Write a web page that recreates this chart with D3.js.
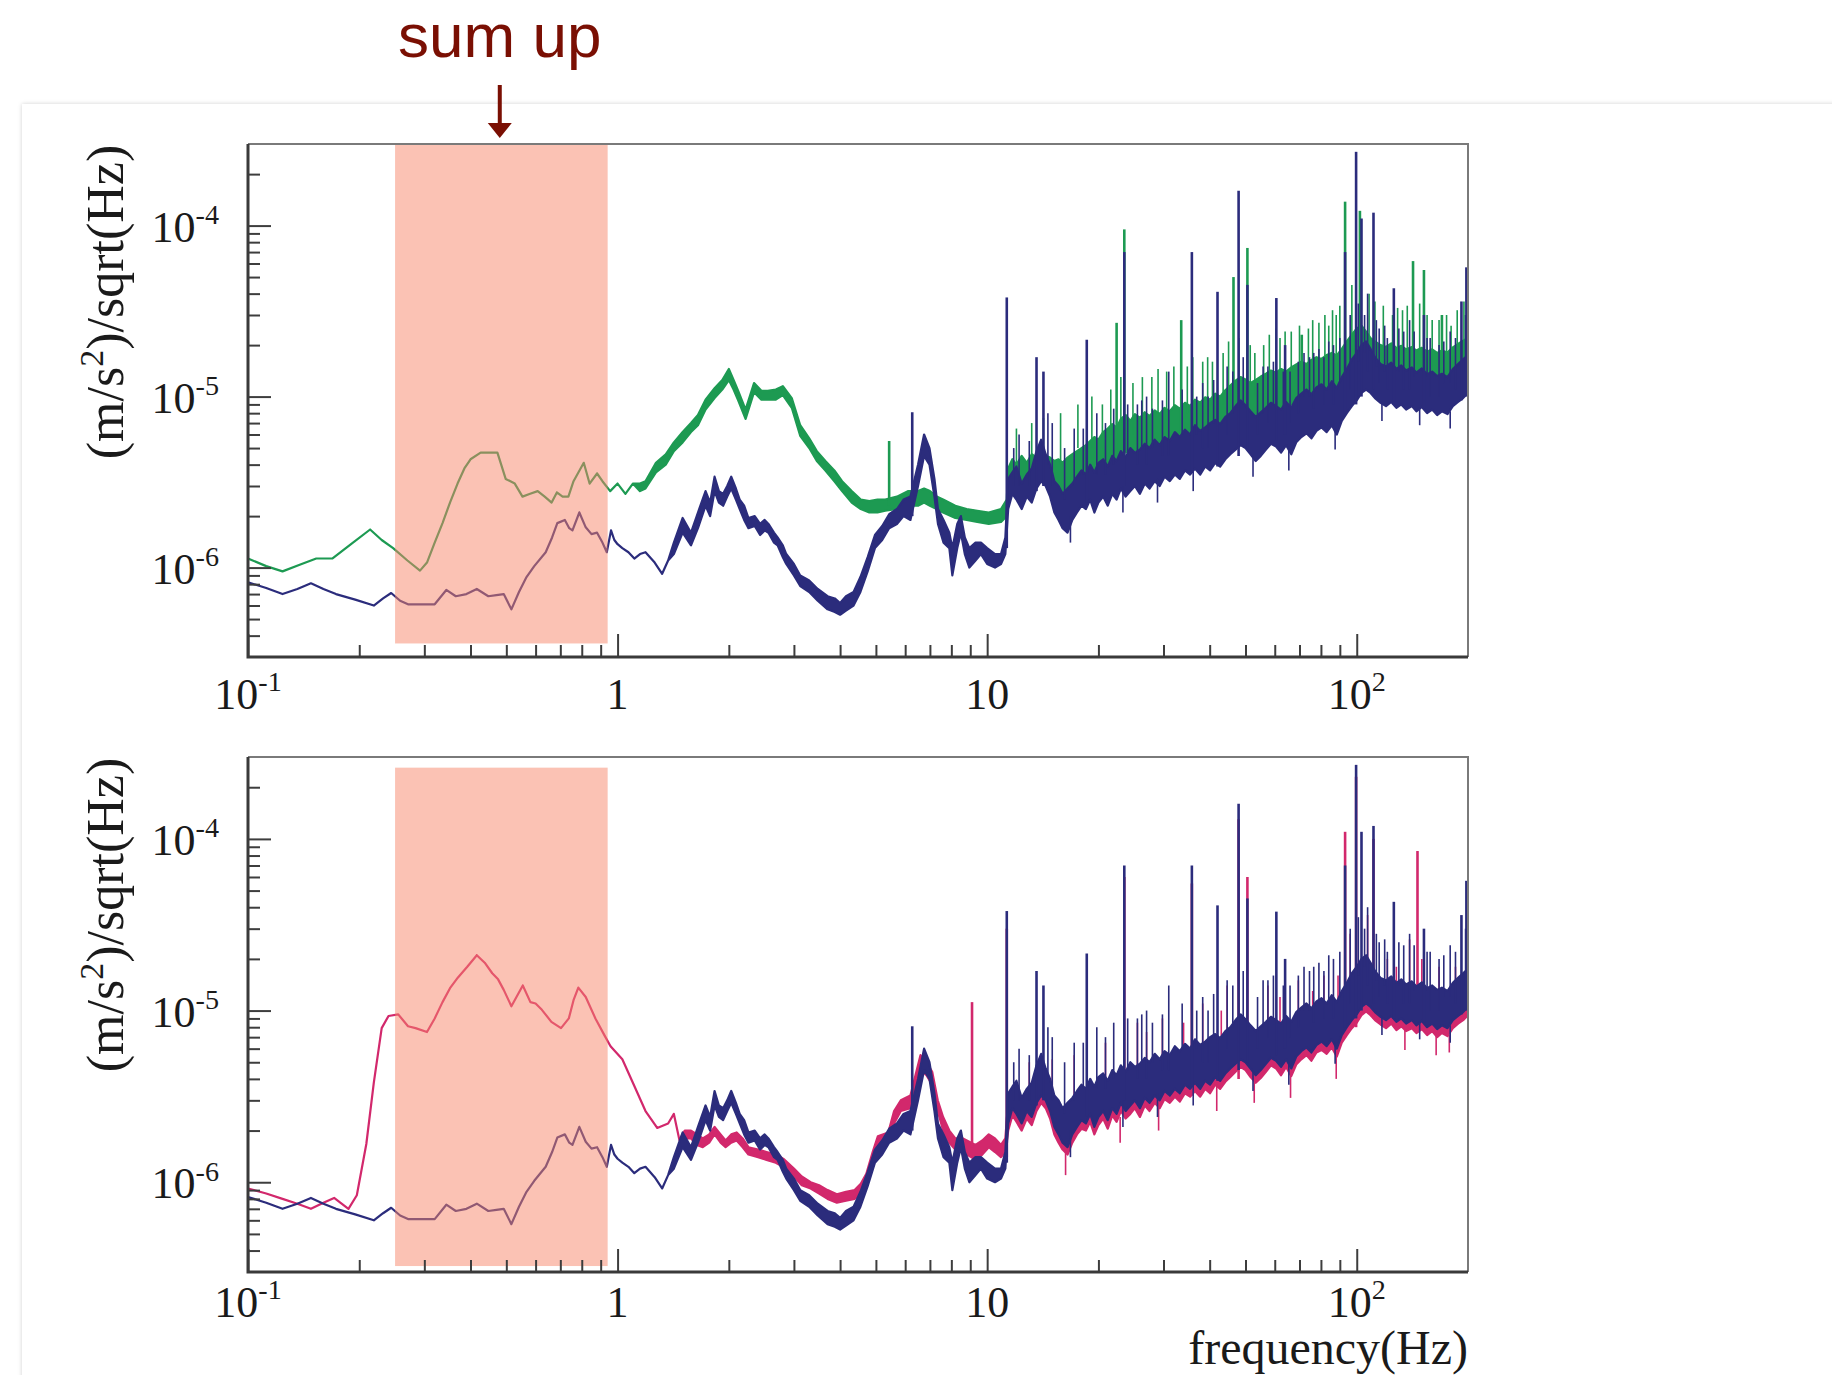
<!DOCTYPE html>
<html>
<head>
<meta charset="utf-8">
<script src="https://cdn.jsdelivr.net/npm/d3@7"></script>
<style>
  body { margin: 0; background: #fff; }
  svg { display: block; }
</style>
</head>
<body>
<div id="chart"></div>
<script>
const width = 1832, height = 1375;
const U = 1e-6; // trace values are written in micro (m/s^2)/sqrt(Hz)

const xMajor = [0.1, 1, 10, 100];
const xLabels = [["10", "-1"], ["1", ""], ["10", ""], ["10", "2"]];
const yMajor = [1e-4, 1e-5, 1e-6];
const yLabels = [["10", "-4"], ["10", "-5"], ["10", "-6"]];
const sumUpBand = [0.25, 0.94];

// [freq Hz, low, high] ; a single value means a clean line
const blueTrace = [
  [0.100,0.82],[0.112,0.76],[0.124,0.70],[0.136,0.75],[0.148,0.81],[0.160,0.75],[0.173,0.70],[0.195,0.65],
  [0.219,0.60],[0.232,0.66],[0.244,0.71],[0.258,0.64],[0.271,0.61],[0.295,0.61],[0.320,0.61],[0.344,0.74],
  [0.365,0.68],[0.390,0.70],[0.416,0.75],[0.447,0.68],[0.470,0.69],[0.492,0.70],[0.516,0.57],[0.541,0.72],
  [0.567,0.88],[0.595,1.02],[0.639,1.23],[0.665,1.50],[0.687,1.82],[0.720,1.90],[0.740,1.70],[0.755,1.65],
  [0.788,2.10],[0.820,1.72],[0.850,1.57],[0.880,1.60],[0.910,1.40],[0.935,1.23],[0.960,1.65],[0.980,1.45],
  [1.00,1.37],[1.03,1.30],[1.07,1.23],[1.11,1.13],[1.15,1.20],[1.19,1.23],[1.26,1.07],[1.32,0.92],[1.37,1.10],
  [1.42,1.2,1.4],[1.50,1.6,1.95],[1.58,1.35,1.6],[1.65,1.7,2.1],[1.73,2.3,2.8],[1.78,2.0,2.4],[1.83,2.8,3.4],
  [1.88,2.4,2.8],[1.93,2.3,2.7],[1.98,2.6,3.0],[2.03,2.9,3.4],[2.09,2.5,2.9],[2.14,2.2,2.5],[2.20,1.9,2.3],
  [2.26,1.7,1.95],[2.35,1.75,2.0],[2.43,1.55,1.8],[2.50,1.65,1.9],[2.56,1.6,1.8],[2.65,1.4,1.6],[2.71,1.35,1.5],
  [2.80,1.15,1.35],[2.86,1.05,1.2],[3.00,0.9,1.05],[3.12,0.78,0.9],[3.30,0.72,0.84],[3.48,0.64,0.75],
  [3.70,0.57,0.68],[3.87,0.55,0.66],[4.00,0.53,0.62],[4.15,0.56,0.68],[4.35,0.60,0.72],[4.54,0.72,0.88],
  [4.75,0.95,1.15],[4.97,1.3,1.55],[5.20,1.45,1.75],[5.43,1.7,2.05],[5.70,1.8,2.2],[5.94,2.0,2.5],[6.20,1.9,2.6],
  [6.50,3.0,4.0],[6.75,4.5,6.0],[6.98,4.0,5.0],[7.20,2.6,3.3],[7.36,1.8,2.2],[7.62,1.4,1.9],[7.90,1.3,1.6],
  [8.05,0.9,1.3],[8.30,1.3,1.8],[8.49,1.6,2.0],[8.70,1.2,1.5],[8.95,1.0,1.3],[9.30,1.1,1.4],[9.62,1.2,1.4],
  [10.0,1.05,1.3],[10.5,1.0,1.2],[10.9,1.05,1.2],[11.2,1.2,1.5],
  [11.4,2.2,3.3],[11.7,2.7,3.6],[12.0,2.5,3.9],[12.4,2.2,3.1],[12.8,2.6,3.5],[13.2,2.4,3.8],[13.6,2.9,4.8],
  [14.0,3.2,5.6],[14.4,3.0,4.6],[14.8,2.6,4.0],[15.2,2.1,3.2],[15.6,1.9,3.0],[16.0,1.7,2.7],[16.5,1.6,2.9],
  [17.0,1.9,3.1],[17.5,2.1,3.4],[18.0,2.3,3.7],[18.5,2.2,3.5],[19.0,2.5,4.0],[19.5,2.1,3.6],[20.0,2.4,4.1],
  [20.6,2.6,4.3],[21.2,2.3,3.9],[21.8,2.7,4.5],[22.4,2.5,4.2],[23.0,2.9,4.8],[23.7,2.6,4.4],[24.4,2.8,5.0],
  [25.1,3.0,4.7],[25.9,2.7,4.9],[26.7,3.1,5.3],[27.5,2.9,5.0],[28.4,3.2,5.6],[29.3,3.0,5.2],[30.2,3.4,5.8],
  [31.2,3.2,5.5],[32.2,3.5,6.2],[33.2,3.3,5.8],[34.3,3.7,6.4],[35.4,3.5,6.0],[36.5,3.8,6.8],[37.7,3.5,6.3],
  [38.9,3.9,6.6],[40.1,3.7,7.0],[41.4,4.1,7.3],[42.7,3.9,6.9],[44.1,4.3,7.6],[45.5,4.6,8.0],[47.0,4.9,8.8],
  [48.5,5.2,9.5],[50.0,5.0,8.9],[51.6,4.6,8.2],[53.3,4.2,7.6],[55.0,4.5,8.1],[56.8,4.9,8.6],[58.6,5.3,9.2],
  [60.5,5.1,8.8],[62.4,4.7,8.4],[64.4,5.2,9.3],[66.5,4.6,8.6],[68.6,5.4,9.8],[70.8,5.8,10.4],[73.1,6.1,11.0],
  [75.4,5.7,10.3],[77.8,6.3,11.3],[80.3,6.6,11.8],[82.9,6.2,11.0],[85.6,6.8,12.3],[88.3,6.0,11.2],[91.1,7.2,13.0],
  [94.0,8.0,14.5],[97.0,8.8,16.5],[100,9.5,18],[103,10.5,20],[106,11,21],[109,10.5,19],[112,9.8,17],
  [116,9.2,15.5],[120,8.8,15],[124,9.3,15.8],[128,8.6,14.5],[132,9.0,15.2],[136,8.4,14.2],[141,8.8,14.8],
  [145,8.2,13.8],[150,8.7,14.6],[155,8.0,13.5],[160,8.4,14.0],[165,7.8,13.2],[170,8.2,13.6],[176,7.9,13.0],
  [182,8.8,14.5],[188,9.3,15.5],[194,9.8,16.5],[200,10.5,17.5]
];
// [freq, from, to] : tall lines, then small hair-like ones (up and down)
const blueSpikes = [
  [6.27,2.0,8.1],[11.3,1.3,38],[13.6,2.8,17],[14.2,3.0,14],[18.6,2.4,21.5],[23.5,3.0,70],[35.8,3.6,70],
  [42,3.9,41],[47.9,4.5,160],[50.6,5,45],[60.6,5.5,37.7],[64,6,20],[93,8,70],[99.6,9,270],[103,10,110],
  [111,11,119],[126,9,43],[152,8.5,30],[192,9.5,36],[198,10,57]
];
const blueHairs = [
  [12.2,3,6],[13.0,3,5.5],[15.0,3,7],[16.2,2.5,5],[17.2,3,6.5],[19.8,3.5,8],[20.9,3.5,7],[25.5,4,9],[27.0,4,10],
  [29.8,4.5,9.5],[31.0,4.5,14],[38.3,5,12],[39.6,5,10],[44.6,6,15],[53.9,6,12],[57.5,7,15],[66,7,14],[69.5,8,16],
  [76.5,8.5,18],[81.5,9,17],[86.5,9,20],[96,11,30],[107,14,40],[115,12,25],[121,11,22],[134,11,24],[139,11,28],
  [158,10,22],[167,10,20],[185,11,22],
  [11.8,3,5],[14.6,4,8],[18.2,3.5,6.5],[22.0,4,8.5],[24.0,4.5,9],[26.2,5,9.5],[28.0,5,8.5],[33.7,6,11],
  [36.9,6,10],[41.0,7,12.5],[46.2,8,14],[49.3,9,17],[55.8,8,15],[59.5,9,16],[63.3,8.5,14],[72,10,18],
  [74.5,10,17],[79,11,19],[84,11,21],[90,12,22],[101,16,35],[105,18,30],[113,15,28],[119,14,26],[130,14,25],
  [143,13,24],[155,13,22],[172,12,21],[179,12,24],[197,14,30],
  [16.8,2.0,1.4],[23.3,3.0,2.1],[28.9,3.3,2.4],[36.1,3.8,2.8],[52.4,4.5,3.4],[65.5,5,3.7],[87.4,6.5,4.9],
  [117,9.3,7.2],[148,8.5,6.8],[179,8.2,6.5]
];

const greenTrace = [
  [0.100,1.13],[0.112,1.02],[0.124,0.95],[0.138,1.04],[0.153,1.13],[0.169,1.13],[0.190,1.37],[0.214,1.67],
  [0.230,1.45],[0.247,1.30],[0.270,1.10],[0.292,0.96],[0.305,1.07],[0.320,1.40],[0.336,1.82],[0.352,2.4],
  [0.369,3.1],[0.385,3.8],[0.400,4.3],[0.426,4.7],[0.450,4.7],[0.473,4.7],[0.498,3.3],[0.527,3.1],[0.553,2.6],
  [0.580,2.7],[0.608,2.8],[0.635,2.6],[0.663,2.4],[0.685,2.75],[0.710,2.6],[0.736,2.6],[0.760,3.2],[0.810,4.1],
  [0.840,3.1],[0.880,3.55],[0.910,3.2],[0.955,2.8],[1.00,3.1],[1.05,2.7],[1.10,3.1],
  [1.15,2.8,3.1],[1.19,2.9,3.2],[1.27,3.6,4.1],[1.35,4.0,4.6],[1.42,4.8,5.4],[1.50,5.4,6.2],[1.58,6.2,7.0],
  [1.65,6.8,7.8],[1.73,8.4,9.6],[1.83,9.8,11.2],[1.92,11,12.5],[2.00,12.5,14.5],[2.06,11,12.5],[2.12,9.5,10.8],
  [2.22,7.4,8.4],[2.34,10.6,12],[2.45,9.6,10.8],[2.55,9.6,10.8],[2.68,9.6,11],[2.80,10.2,11.5],[2.96,8.6,9.8],
  [3.12,5.9,6.8],[3.30,5.0,5.7],[3.46,4.2,4.8],[3.65,3.7,4.2],[3.86,3.2,3.7],[4.05,2.8,3.2],[4.30,2.4,2.8],
  [4.55,2.2,2.5],[4.80,2.1,2.45],[5.05,2.1,2.5],[5.30,2.15,2.5],[5.70,2.2,2.6],[6.10,2.3,2.8],[6.50,2.3,2.8],
  [6.75,2.4,2.9],[7.0,2.3,2.8],[7.3,2.2,2.6],[7.6,2.1,2.5],[8.2,1.95,2.3],[8.8,1.9,2.2],[9.4,1.85,2.15],
  [10.1,1.8,2.1],[10.9,1.85,2.2],[11.3,2.0,2.5],
  [11.4,2.6,3.8],[11.7,3.0,4.3],[12.0,2.8,4.0],[12.4,3.1,4.5],[12.8,2.9,4.1],[13.2,3.2,4.6],[13.6,3.0,4.4],
  [14.0,3.3,4.9],[14.4,3.1,4.5],[14.8,3.0,4.4],[15.2,2.9,4.2],[15.6,3.0,4.3],[16.0,2.8,4.1],[16.5,2.9,4.4],
  [17.0,3.1,4.6],[17.5,3.3,4.8],[18.0,3.2,5.0],[18.5,3.5,5.2],[19.0,3.4,5.5],[19.5,3.7,5.8],[20.0,3.6,5.6],
  [20.6,3.9,6.2],[21.2,4.1,6.5],[21.8,4.3,6.9],[22.4,4.2,6.6],[23.0,4.6,7.4],[23.7,4.8,7.8],[24.4,4.5,7.2],
  [25.1,4.9,7.9],[25.9,4.7,7.5],[26.7,5.0,8.1],[27.5,4.8,7.7],[28.4,5.1,8.3],[29.3,4.9,7.9],[30.2,5.3,8.6],
  [31.2,5.1,8.2],[32.2,5.5,8.9],[33.2,5.3,8.5],[34.3,5.7,9.2],[35.4,5.5,8.8],[36.5,5.9,9.6],[37.7,5.7,9.2],
  [38.9,6.1,9.9],[40.1,6.0,9.6],[41.4,6.4,10.4],[42.7,6.2,10.0],[44.1,6.7,10.9],[45.5,7.0,11.6],[47.0,7.4,12.4],
  [48.5,7.8,13.0],[50.0,7.6,12.6],[51.6,7.3,12.0],[53.3,7.6,12.5],[55.0,7.9,13.1],[56.8,8.2,13.6],[58.6,8.5,14.2],
  [60.5,8.3,13.8],[62.4,8.7,14.5],[64.4,8.5,14.0],[66.5,9.0,14.8],[68.6,9.3,15.4],[70.8,9.7,16.0],[73.1,9.4,15.5],
  [75.4,9.9,16.4],[77.8,10.3,17.0],[80.3,10.0,16.6],[82.9,10.6,17.5],[85.6,10.9,18.0],[88.3,10.5,17.4],
  [91.1,11.5,19],[94.0,12.5,21],[97.0,13.5,23],[100,14,25],[103,14.5,26],[106,14,24],[109,13.2,22],[112,12.8,21],
  [116,12.4,20],[120,12.2,19.5],[124,12.6,20.5],[128,12.0,19.2],[132,12.4,19.8],[136,11.8,18.9],[141,12.2,19.5],
  [145,11.7,18.6],[150,12.1,19.3],[155,11.5,18.3],[160,11.9,18.9],[165,11.3,18.0],[170,11.7,18.6],[176,11.4,18.1],
  [182,12.2,19.4],[188,12.8,20.3],[194,13.4,21.2],[200,14.0,22.0]
];
const greenSpikes = [
  [5.43,2.3,5.5],[22.4,4.5,27],[23.5,4.5,95],[33.5,5.5,28],[46.4,7.4,50],[50.6,8,74],[71,9.5,23],
  [93,12,138],[102,14,122],[142,12.5,62],[152,12,55],[170,11.5,30]
];
const greenHairs = [
  [13.2,4,7],[15.8,4,8],[19.2,5,10],[20.5,5,9],[24.8,6,12],[27.9,7,13],[30.6,7,14],[34.8,8,15],[38.3,8,16],
  [40.7,9,16],[43.5,9,18],[53,10,18],[56,11,20],[62,11,22],[66.5,12,24],[74,13,25],[79,13,27],[84,14,26],
  [88,14,30],[108,18,40],[118,16,34],[125,16,30],[133,16,32],[160,15,28],[180,15,26],[195,16,36],
  [12.0,4,6.5],[14.2,4.5,7.5],[17.6,5,9],[21.6,6,11],[23.0,7,13],[26.3,7.5,13],[29.0,8,14.5],[32.0,8.5,15],
  [36.0,9,17],[39.5,9.5,17],[45,11,21],[48,12,22],[51.5,12,20],[58,13,23],[60.5,13.5,25],[64,14,24],[70,15,26],
  [76,16,28],[82,17,30],[86,17,32],[90,18,34],[97,22,45],[112,20,36],[129,19,33],[137,18,34],[148,19,35],
  [155,18,30],[167,17,28],[175,17,30],[187,19,32]
];

const pinkTrace = [
  [0.100,0.92],[0.112,0.86],[0.124,0.80],[0.136,0.75],[0.148,0.70],[0.160,0.76],[0.171,0.81],[0.187,0.70],
  [0.197,0.84],[0.209,1.67],[0.219,3.8],[0.230,7.9],[0.240,9.3],[0.255,9.5],[0.271,8.1],[0.284,7.9],[0.305,7.5],
  [0.320,9.0],[0.336,11.2],[0.352,13.5],[0.370,15.6],[0.392,18],[0.416,21],[0.437,19],[0.458,16.5],[0.475,15.2],
  [0.492,13.2],[0.516,10.6],[0.554,14],[0.581,11.2],[0.600,11.0],[0.624,10.1],[0.662,8.6],[0.703,7.9],[0.738,9.0],
  [0.760,11.5],[0.783,13.6],[0.820,12],[0.871,9.0],[0.924,7.1],[0.957,6.2],[1.03,5.2],[1.10,3.8],[1.19,2.6],
  [1.28,2.07],[1.37,2.2],[1.42,2.5],[1.47,1.76],
  [1.52,1.8,2.0],[1.58,1.8,2.0],[1.64,1.65,1.9],[1.70,1.6,1.8],[1.77,1.7,1.9],[1.83,1.9,2.1],[1.90,1.7,1.9],
  [1.96,1.6,1.75],[2.03,1.7,1.9],[2.10,1.75,1.95],[2.18,1.6,1.8],[2.26,1.45,1.6],[2.40,1.4,1.55],[2.53,1.35,1.5],
  [2.68,1.3,1.45],[2.82,1.22,1.36],[3.00,1.08,1.2],[3.15,0.96,1.08],[3.33,0.92,1.0],[3.51,0.86,0.96],
  [3.70,0.8,0.9],[3.92,0.76,0.85],[4.15,0.78,0.88],[4.38,0.80,0.9],[4.55,0.88,0.98],[4.71,1.0,1.12],
  [4.90,1.3,1.5],[5.06,1.65,1.85],[5.40,1.75,1.95],[5.60,2.2,2.6],[5.84,2.6,3.0],[6.20,2.7,3.2],[6.60,4.5,5.5],
  [6.85,4.2,5.0],[7.10,3.7,4.4],[7.35,2.6,3.0],[7.60,2.0,2.4],[7.90,1.7,2.0],[8.20,1.55,1.8],[8.60,1.5,1.8],
  [9.30,1.35,1.65],[9.70,1.45,1.75],[10.1,1.6,1.9],[10.5,1.5,1.8],[10.9,1.4,1.65],[11.2,1.5,1.8],
  [11.4,2.0,3.0],[11.7,2.45,3.3],[12.0,2.25,3.5],[12.4,2.0,2.8],[12.8,2.35,3.2],[13.2,2.15,3.4],[13.6,2.6,4.3],
  [14.0,2.9,5.0],[14.4,2.7,4.1],[14.8,2.35,3.6],[15.2,1.9,2.9],[15.6,1.7,2.7],[16.0,1.55,2.4],[16.5,1.45,2.6],
  [17.0,1.7,2.8],[17.5,1.9,3.1],[18.0,2.05,3.3],[18.5,2.0,3.2],[19.0,2.25,3.6],[19.5,1.9,3.2],[20.0,2.15,3.7],
  [20.6,2.35,3.9],[21.2,2.05,3.5],[21.8,2.45,4.0],[22.4,2.25,3.8],[23.0,2.6,4.3],[23.7,2.35,4.0],[24.4,2.5,4.5],
  [25.1,2.7,4.2],[25.9,2.4,4.4],[26.7,2.8,4.8],[27.5,2.6,4.5],[28.4,2.9,5.0],[29.3,2.7,4.7],[30.2,3.05,5.2],
  [31.2,2.9,5.0],[32.2,3.15,5.6],[33.2,2.95,5.2],[34.3,3.3,5.8],[35.4,3.15,5.4],[36.5,3.4,6.1],[37.7,3.15,5.7],
  [38.9,3.5,5.9],[40.1,3.3,6.3],[41.4,3.7,6.6],[42.7,3.5,6.2],[44.1,3.85,6.8],[45.5,4.1,7.2],[47.0,4.4,7.9],
  [48.5,4.7,8.5],[50.0,4.5,8.0],[51.6,4.1,7.4],[53.3,3.8,6.8],[55.0,4.05,7.3],[56.8,4.4,7.7],[58.6,4.8,8.3],
  [60.5,4.6,7.9],[62.4,4.2,7.6],[64.4,4.7,8.4],[66.5,4.15,7.7],[68.6,4.85,8.8],[70.8,5.2,9.4],[73.1,5.5,9.9],
  [75.4,5.1,9.3],[77.8,5.7,10.2],[80.3,5.9,10.6],[82.9,5.6,9.9],[85.6,6.1,11.1],[88.3,5.4,10.1],[91.1,6.5,11.7],
  [94.0,7.2,13.0],[97.0,7.9,14.8],[100,8.5,16.2],[103,9.4,18],[106,9.9,19],[109,9.4,17],[112,8.8,15.3],
  [116,8.3,14.0],[120,7.9,13.5],[124,8.4,14.2],[128,7.7,13.0],[132,8.1,13.7],[136,7.6,12.8],[141,7.9,13.3],
  [145,7.4,12.4],[150,7.8,13.1],[155,7.2,12.2],[160,7.6,12.6],[165,7.0,11.9],[170,7.4,12.2],[176,7.1,11.7],
  [182,7.9,13.0],[188,8.4,14.0],[194,8.8,14.8],[200,9.4,15.8]
];
const pinkSpikes = [
  [9.1,1.6,11.2],[11.3,1.4,30],[23.5,2.8,60],[35.8,3.2,55],[47.9,4,130],[50.6,4.5,60],[93,7,110],
  [99.6,8,230],[111,9,100],[146,8,85]
];
const pinkHairs = [
  [13.0,2.5,5],[17.2,2.5,5.5],[20.9,3,6.5],[25.5,3.5,8.5],[29.8,4,9],[38.3,4.5,11],[44.6,5,14],[57.5,6,14],
  [69.5,7,15],[81.5,8,16],[96,9.5,28],[107,12,36],[121,10,20],[139,10,26],[167,9,18],
  [15.0,2.5,5.2],[27,3,7.5],[34,3.5,8.5],[43,4,10],[62,5,12],[76,6,13],[89,7,16],[128,9,18],[150,9,20],[185,9,18],
  [16.3,1.5,1.1],[22.9,2.4,1.7],[29.1,2.8,2.0],[41.8,3.6,2.6],[52.8,3.9,2.9],[66.2,4.2,3.1],[88.0,5.5,4.0],
  [135,7.7,5.9],[164,7.1,5.5],[178,7.2,5.7]
];

const colors = { blue: "#2b2c7c", green: "#1d9a52", pink: "#d2286c", band: "#f7856a", note: "#7a0f03" };

const panels = [
  { top: 144, bottom: 657, labelGap: 52, bandV: [3.6e-7, 3e-4], series: [
      { trace: greenTrace, spikes: greenSpikes, hairs: greenHairs, color: colors.green },
      { trace: blueTrace, spikes: blueSpikes, hairs: blueHairs, color: colors.blue }] },
  { top: 757, bottom: 1272, labelGap: 45, bandV: [3.25e-7, 2.6e-4], series: [
      { trace: pinkTrace, spikes: pinkSpikes, hairs: pinkHairs, color: colors.pink },
      { trace: blueTrace, spikes: blueSpikes, hairs: blueHairs, color: colors.blue }] }
];

const left = 248, right = 1468;
const serif = "'Liberation Serif', 'Times New Roman', serif";

let svg = d3.select("#chart").append("svg")
  .attr("width", width).attr("height", height);

let defs = svg.append("defs");
let shadow = defs.append("filter").attr("id", "cardShadow")
  .attr("x", -0.02).attr("y", -0.02).attr("width", 1.05).attr("height", 1.05);
shadow.append("feDropShadow").attr("dx", 0).attr("dy", 0).attr("stdDeviation", 2)
  .attr("flood-color", "#000").attr("flood-opacity", 0.18);

// the card the chart sits on
svg.append("rect")
  .attr("x", 22).attr("y", 104).attr("width", 1900).attr("height", 1400)
  .attr("fill", "#fff").attr("filter", "url(#cardShadow)");

let x = d3.scaleLog().domain([0.1, 200]).range([left, right]);

let minorX = [];
[0.1, 1, 10, 100].forEach(dec => d3.range(2, 10).forEach(k => { if (dec * k < 200) minorX.push(dec * k); }));
let minorY = [];
[1e-7, 1e-6, 1e-5, 1e-4].forEach(dec => d3.range(2, 10).forEach(k => {
  let v = dec * k;
  if (v > 3.01e-7 && v < 2.99e-4) minorY.push(v);
}));

function superLabel(sel, base, sup, size) {
  sel.append("tspan").text(base);
  if (sup) sel.append("tspan").attr("font-size", size * 0.64).attr("dy", -size * 0.4).text(sup);
}

panels.forEach((p, pi) => {
  let y = d3.scaleLog().domain([3e-7, 3e-4]).range([p.bottom, p.top]);
  let g = svg.append("g");

  let clipId = "clip" + pi;
  defs.append("clipPath").attr("id", clipId)
    .append("rect").attr("x", left).attr("y", p.top).attr("width", right - left).attr("height", p.bottom - p.top);

  let plot = g.append("g").attr("clip-path", `url(#${clipId})`);

  p.series.forEach(s => {
    let area = d3.area()
      .x(d => x(d[0]))
      .y0(d => y(d[1] * U))
      .y1(d => y((d.length > 2 ? d[2] : d[1]) * U));
    plot.append("path")
      .datum(s.trace)
      .attr("d", area)
      .attr("fill", s.color)
      .attr("stroke", s.color)
      .attr("stroke-width", 2.2)
      .attr("stroke-linejoin", "round");
    [[s.hairs, 1.6], [s.spikes, 2.6]].forEach(([list, w]) => {
      plot.selectAll(null)
        .data(list)
        .enter()
        .append("line")
        .attr("x1", d => x(d[0])).attr("x2", d => x(d[0]))
        .attr("y1", d => y(d[1] * U)).attr("y2", d => y(d[2] * U))
        .attr("stroke", s.color)
        .attr("stroke-width", w);
    });
  });

  // "sum up" frequency band laid over the traces
  plot.append("rect")
    .attr("x", x(sumUpBand[0]))
    .attr("width", x(sumUpBand[1]) - x(sumUpBand[0]))
    .attr("y", y(p.bandV[1]))
    .attr("height", y(p.bandV[0]) - y(p.bandV[1]))
    .attr("fill", colors.band)
    .attr("opacity", 0.5);

  // ticks, drawn inward
  let axX = g.append("g").attr("transform", `translate(0,${p.bottom})`);
  axX.append("g").call(d3.axisBottom(x).tickValues(xMajor).tickSize(-23).tickFormat(""));
  axX.append("g").call(d3.axisBottom(x).tickValues(minorX).tickSize(-12).tickFormat(""));
  let axY = g.append("g").attr("transform", `translate(${left},0)`);
  axY.append("g").call(d3.axisLeft(y).tickValues(yMajor).tickSize(-23).tickFormat(""));
  axY.append("g").call(d3.axisLeft(y).tickValues(minorY).tickSize(-12).tickFormat(""));
  g.selectAll(".domain").remove();
  g.selectAll(".tick line").attr("stroke", "#3d3d3d").attr("stroke-width", 2);

  // frame
  g.append("path")
    .attr("d", `M${left},${p.top}H${right}V${p.bottom}`)
    .attr("fill", "none").attr("stroke", "#7a7a7a").attr("stroke-width", 2);
  g.append("path")
    .attr("d", `M${left},${p.top}V${p.bottom}H${right}`)
    .attr("fill", "none").attr("stroke", "#3a3a3a").attr("stroke-width", 3);

  // tick labels
  xMajor.forEach((v, i) => {
    let t = g.append("text")
      .attr("x", x(v)).attr("y", p.bottom + p.labelGap)
      .attr("text-anchor", "middle")
      .attr("font-family", serif).attr("font-size", 44).attr("fill", "#1a1a1a");
    superLabel(t, xLabels[i][0], xLabels[i][1], 44);
  });
  yMajor.forEach((v, i) => {
    let t = g.append("text")
      .attr("x", 219).attr("y", y(v) + 16)
      .attr("text-anchor", "end")
      .attr("font-family", serif).attr("font-size", 44).attr("fill", "#1a1a1a");
    superLabel(t, yLabels[i][0], yLabels[i][1], 44);
  });

  // y title, sitting above the panel's middle as in the source figure
  let yt = g.append("text")
    .attr("transform", `translate(123,${p.top + 158}) rotate(-90)`)
    .attr("text-anchor", "middle")
    .attr("font-family", serif).attr("font-size", 52).attr("fill", "#1a1a1a");
  yt.append("tspan").text("(m/s");
  yt.append("tspan").attr("font-size", 34).attr("dy", -20).text("2");
  yt.append("tspan").attr("dy", 20).text(")/sqrt(Hz)");
});

svg.append("text")
  .attr("x", right).attr("y", 1364)
  .attr("text-anchor", "end")
  .attr("font-family", serif).attr("font-size", 48).attr("fill", "#1a1a1a")
  .text("frequency(Hz)");

// annotation above the band
let noteX = x(0.48);
svg.append("text")
  .attr("x", noteX).attr("y", 57)
  .attr("text-anchor", "middle")
  .attr("font-family", "'Liberation Sans', Arial, sans-serif")
  .attr("font-size", 62).attr("fill", colors.note)
  .text("sum up");
svg.append("line")
  .attr("x1", noteX).attr("x2", noteX).attr("y1", 85).attr("y2", 126)
  .attr("stroke", colors.note).attr("stroke-width", 4);
svg.append("path")
  .attr("d", `M${noteX - 12},123L${noteX + 12},123L${noteX},138Z`)
  .attr("fill", colors.note);
</script>
</body>
</html>
